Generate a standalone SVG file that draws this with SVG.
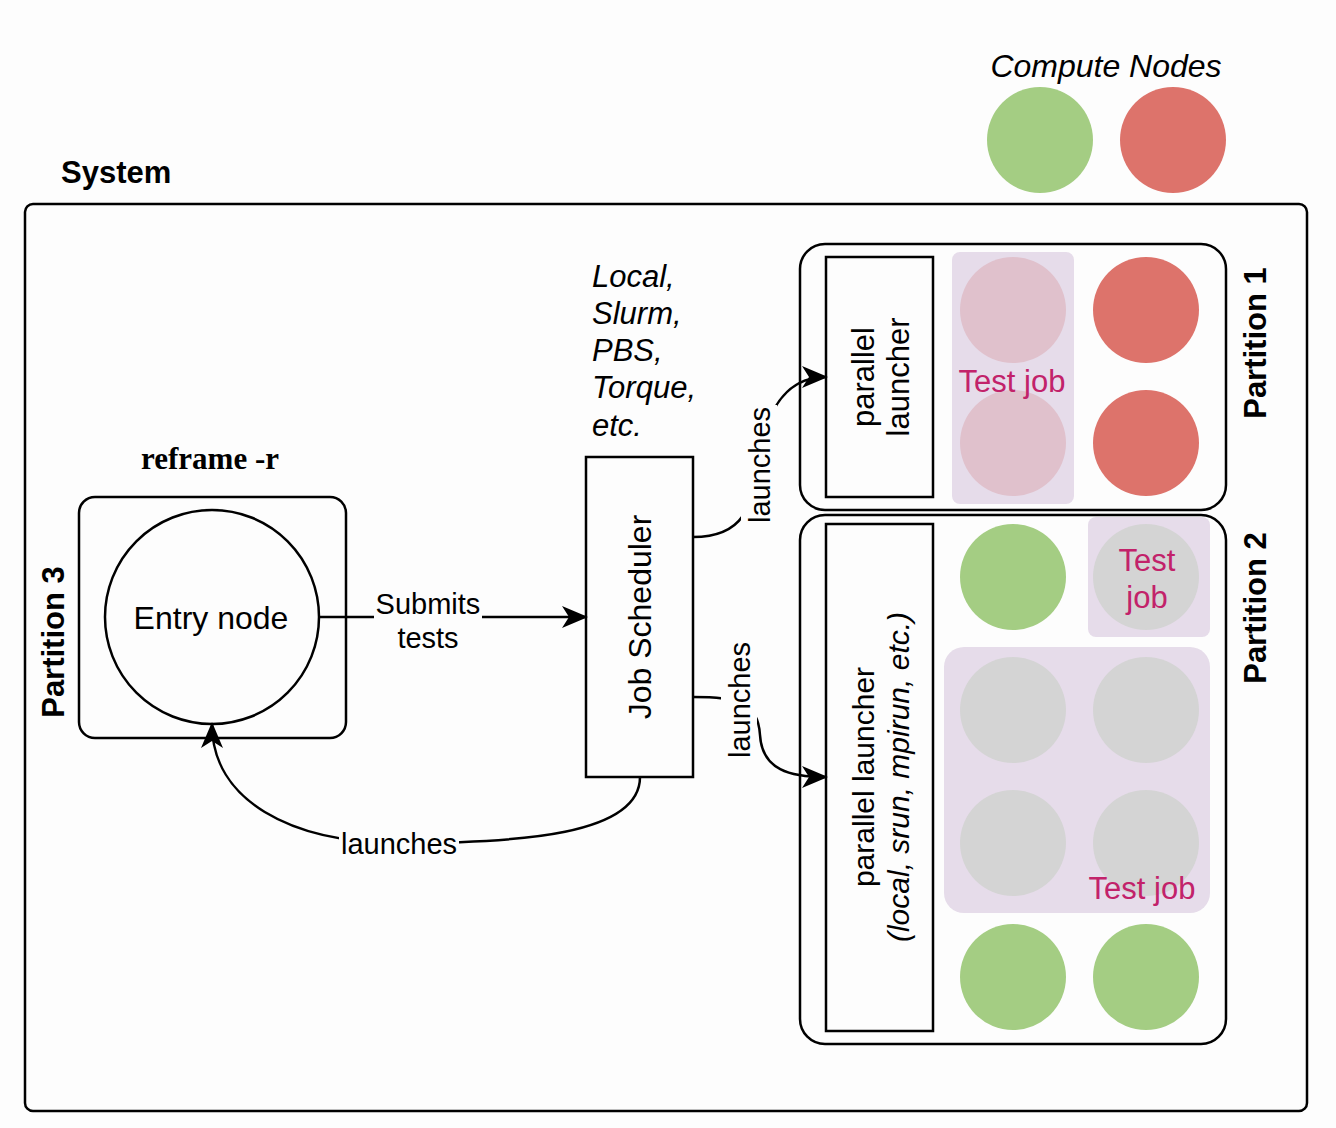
<svg xmlns="http://www.w3.org/2000/svg" width="1336" height="1128" viewBox="0 0 1336 1128">
<defs>
<style>
.t{font-family:"Liberation Sans",Arial,sans-serif;fill:#000}
.b{font-weight:bold}
.i{font-style:italic}
.box{fill:#fdfdfd;stroke:#000;stroke-width:2.5}
.edge{fill:none;stroke:#000;stroke-width:2.5}
.green{fill:#a4cd83}
.red{fill:#dd736b}
.grey{fill:#d4d4d4}
.pink{fill:#e0c1cc}
.job{fill:#e6dcea}
.tj{font-family:"Liberation Sans",Arial,sans-serif;fill:#c2226a;font-size:31px}
</style>
<marker id="arr" markerUnits="userSpaceOnUse" markerWidth="26" markerHeight="22" viewBox="0 0 26 22" refX="24" refY="11" orient="auto">
<path d="M0,0 L26,11 L0,22 L7,11 Z" fill="#000"/>
</marker>
</defs>
<rect x="0" y="0" width="1336" height="1128" fill="#fdfdfd"/>

<g id="legend">
<text class="t i" x="1106" y="77" font-size="32" text-anchor="middle">Compute Nodes</text>
<circle class="green" cx="1040" cy="140" r="53"/>
<circle class="red" cx="1173" cy="140" r="53"/>
</g>

<g id="system">
<text class="t b" x="61" y="183" font-size="31">System</text>
<rect class="box" x="25" y="204" width="1282" height="907" rx="8"/>
</g>

<g id="partition1">
<rect class="box" x="800" y="244" width="426" height="266" rx="25"/>
<rect class="job" x="952" y="252" width="122" height="252" rx="8"/>
<circle class="pink" cx="1013" cy="310" r="53"/>
<circle class="pink" cx="1013" cy="443" r="53"/>
<circle class="red" cx="1146" cy="310" r="53"/>
<circle class="red" cx="1146" cy="443" r="53"/>
<text class="tj" x="1012" y="392" text-anchor="middle">Test job</text>
<text class="t b" font-size="31" text-anchor="middle" transform="translate(1266,343) rotate(-90)">Partition 1</text>
</g>

<g id="launcher1">
<rect class="box" x="826" y="257" width="107" height="240"/>
<text class="t" font-size="31" text-anchor="middle" transform="translate(880,377) rotate(-90)"><tspan x="0" y="-6">parallel</tspan><tspan x="0" y="29">launcher</tspan></text>
</g>

<g id="partition2">
<rect class="box" x="800" y="515" width="426" height="529" rx="25"/>
<circle class="green" cx="1013" cy="577" r="53"/>
<rect class="job" x="1088" y="517" width="122" height="120" rx="8"/>
<circle class="grey" cx="1146" cy="577" r="53"/>
<text class="tj" text-anchor="middle"><tspan x="1147" y="571">Test</tspan><tspan x="1147" y="608">job</tspan></text>
<rect class="job" x="944" y="647" width="266" height="266" rx="20"/>
<circle class="grey" cx="1013" cy="710" r="53"/>
<circle class="grey" cx="1146" cy="710" r="53"/>
<circle class="grey" cx="1013" cy="843" r="53"/>
<circle class="grey" cx="1146" cy="843" r="53"/>
<text class="tj" x="1142" y="899" text-anchor="middle">Test job</text>
<circle class="green" cx="1013" cy="977" r="53"/>
<circle class="green" cx="1146" cy="977" r="53"/>
<text class="t b" font-size="31" text-anchor="middle" transform="translate(1266,608) rotate(-90)">Partition 2</text>
</g>

<g id="launcher2">
<rect class="box" x="826" y="524" width="107" height="507"/>
<text class="t" font-size="30" text-anchor="middle" transform="translate(880,777) rotate(-90)"><tspan x="0" y="-6">parallel launcher</tspan><tspan x="0" y="29" font-style="italic">(local, srun, mpirun, etc.)</tspan></text>
</g>

<g id="partition3">
<rect class="box" x="79" y="497" width="267" height="241" rx="16"/>
<text class="t b" font-size="31" text-anchor="middle" transform="translate(64,642) rotate(-90)">Partition 3</text>
</g>

<g id="entry">
<text x="210" y="469" font-family="'Liberation Serif','Times New Roman',serif" font-weight="bold" font-size="31" text-anchor="middle">reframe -r</text>
<circle cx="212" cy="617" r="107" fill="#fdfdfd" stroke="#000" stroke-width="2.5"/>
<text class="t" x="211" y="629" font-size="32" text-anchor="middle">Entry node</text>
</g>

<g id="scheduler">
<text class="t i" font-size="31"><tspan x="592" y="287">Local,</tspan><tspan x="592" y="324">Slurm,</tspan><tspan x="592" y="361">PBS,</tspan><tspan x="592" y="398">Torque,</tspan><tspan x="592" y="436">etc.</tspan></text>
<rect class="box" x="586" y="457" width="107" height="320"/>
<text class="t" font-size="32" text-anchor="middle" transform="translate(651,617) rotate(-90)">Job Scheduler</text>
</g>

<g id="connectors">
<path class="edge" d="M319,617 L586,617" marker-end="url(#arr)"/>
<path class="edge" d="M693,537 C745,537 752,505 758,465 C764,420 780,377 826,377" marker-end="url(#arr)"/>
<path class="edge" d="M693,697 C735,697 758,700 760,735 C762,770 790,777 826,777" marker-end="url(#arr)"/>
<path class="edge" d="M640,777 C640,835 520,843 400,843 C290,843 212,800 212,724" marker-end="url(#arr)"/>
<rect x="374" y="590" width="108" height="66" fill="#fdfdfd"/>
<text class="t" font-size="29" text-anchor="middle"><tspan x="428" y="614">Submits</tspan><tspan x="428" y="648">tests</tspan></text>
<rect x="741" y="405" width="36" height="120" fill="#fdfdfd"/>
<text class="t" font-size="29" text-anchor="middle" transform="translate(770,465) rotate(-90)">launches</text>
<rect x="721" y="640" width="36" height="120" fill="#fdfdfd"/>
<text class="t" font-size="29" text-anchor="middle" transform="translate(750,700) rotate(-90)">launches</text>
<rect x="339" y="826" width="120" height="34" fill="#fdfdfd"/>
<text class="t" x="399" y="854" font-size="29" text-anchor="middle">launches</text>
</g>
</svg>
